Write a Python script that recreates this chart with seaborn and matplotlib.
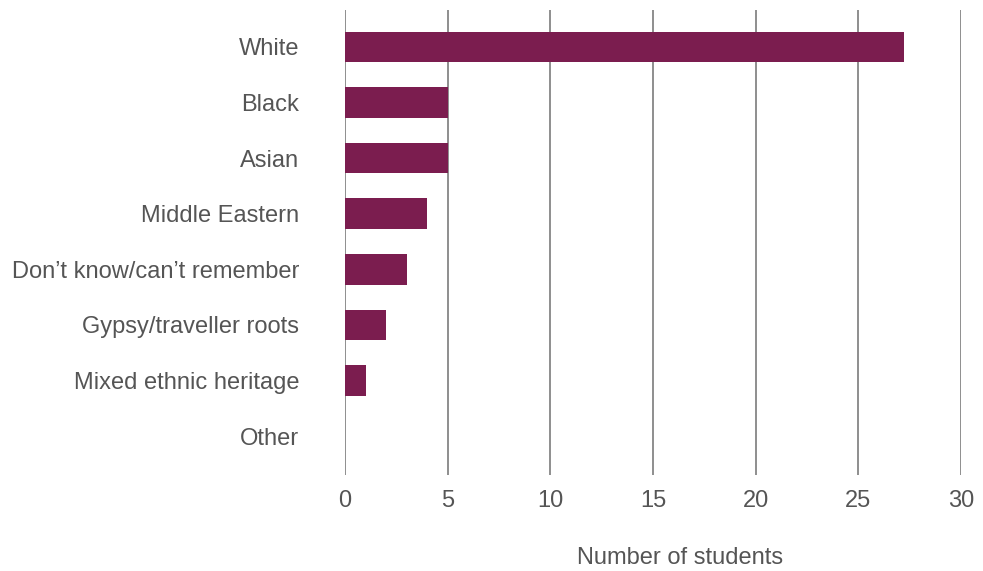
import pandas as pd
import seaborn as sns
import matplotlib.pyplot as plt

categories = ["White", "Black", "Asian", "Middle Eastern", "Don\u2019t know/can\u2019t remember",
              "Gypsy/traveller roots", "Mixed ethnic heritage", "Other"]
students = [27.2, 5, 5, 4, 3, 2, 1, 0]
x_ticks = [0, 5, 10, 15, 20, 25, 30]

data = pd.DataFrame({"group": categories, "n": students})

sns.set_style("white")
plt.rcParams['font.family'] = ['Liberation Sans', 'DejaVu Sans']
txt = "#555555"

fig = plt.figure(figsize=(9.83, 5.71), dpi=100)
ax = fig.add_axes([345 / 983, 1 - 475 / 571, (961 - 345) / 983, 465 / 571])

sns.barplot(data=data, x="n", y="group", color="#7B1D4F", saturation=1,
            width=0.55, linewidth=0, ax=ax, zorder=3)

ax.set_xlim(0, 30)
ax.set_ylim(7.70, -0.665)
ax.set_xticks(x_ticks)
ax.xaxis.grid(True, color="#8e8e8e", linewidth=1.4, zorder=0)
ax.yaxis.grid(False)
for s in ax.spines.values():
    s.set_visible(False)
ax.tick_params(axis="both", length=0, labelsize=17, labelcolor=txt)
ax.tick_params(axis="x", pad=11)
ax.tick_params(axis="y", pad=33)
ax.set_ylabel("")
ax.set_xlabel("Number of students", fontsize=17, color=txt, labelpad=26)
ax.xaxis.set_label_coords(0.544, -0.155)

fig.savefig("out.png", dpi=100)
